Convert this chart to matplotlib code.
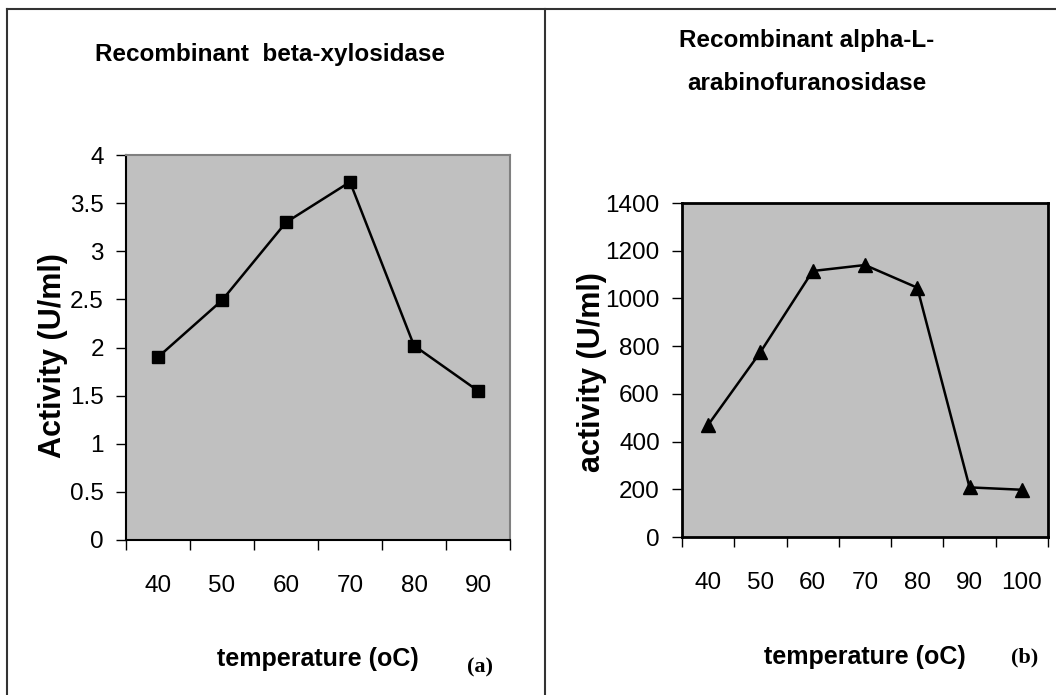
import matplotlib
matplotlib.use('Agg')
import matplotlib.pyplot as plt
from matplotlib.lines import Line2D

# Data
temps_a = ['40', '50', '60', '70', '80', '90']
activity_a = [1.9, 2.49, 3.3, 3.72, 2.02, 1.55]

temps_b = ['40', '50', '60', '70', '80', '90', '100']
activity_b = [470, 775, 1115, 1140, 1045, 208, 198]

plt.rcParams['font.family'] = ['Liberation Sans', 'DejaVu Sans']

W, H = 1056, 695
fig = plt.figure(figsize=(W / 100, H / 100), dpi=100)


def px(x0, y0, x1, y1):
    # pixel box (top-left origin) -> figure fractions
    return [x0 / W, 1 - y1 / H, (x1 - x0) / W, (y1 - y0) / H]


def style_axes(ax, cats, edge, lw):
    n = len(cats)
    ax.set_facecolor('#c0c0c0')
    ax.set_xlim(-0.5, n - 0.5)
    ax.set_xticks([i - 0.5 for i in range(n + 1)])
    ax.set_xticklabels([])
    ax.set_xticks(range(n), minor=True)
    ax.set_xticklabels(cats, minor=True, fontsize=17.5)
    ax.tick_params(axis='x', which='major', direction='out', length=7, width=1)
    ax.tick_params(axis='x', which='minor', length=0, pad=25)
    ax.tick_params(axis='y', direction='out', length=7, width=1, labelsize=17.5, pad=9)
    for s in ['left', 'bottom']:
        ax.spines[s].set_color('black')
        ax.spines[s].set_linewidth(lw)
    for s in ['top', 'right']:
        ax.spines[s].set_color(edge)
        ax.spines[s].set_linewidth(lw)


# panel (a)
ax1 = fig.add_axes(px(126, 155, 510, 540))
style_axes(ax1, temps_a, '#808080', 1.5)
ax1.plot(range(len(temps_a)), activity_a, color='black', lw=1.8,
         marker='s', markersize=9, markerfacecolor='black')
ax1.set_ylim(0, 4)
ax1.set_yticks([0, 0.5, 1, 1.5, 2, 2.5, 3, 3.5, 4])
ax1.set_yticklabels(['0', '0.5', '1', '1.5', '2', '2.5', '3', '3.5', '4'])
ax1.set_xlabel('temperature (oC)', fontsize=18, fontweight='bold')
ax1.xaxis.set_label_coords(0.5, -0.278)
ax1.set_ylabel('Activity (U/ml)', fontsize=22, fontweight='bold', va='center')
ax1.yaxis.set_label_coords(-0.19, 0.48)

# panel (b)
ax2 = fig.add_axes(px(682, 203, 1048, 537))
style_axes(ax2, temps_b, 'black', 2)
ax2.plot(range(len(temps_b)), activity_b, color='black', lw=1.8,
         marker='^', markersize=10, markerfacecolor='black')
ax2.set_ylim(0, 1400)
ax2.set_yticks(range(0, 1401, 200))
ax2.set_xlabel('temperature (oC)', fontsize=18, fontweight='bold')
ax2.xaxis.set_label_coords(0.5, -0.323)
ax2.set_ylabel('activity (U/ml)', fontsize=22, fontweight='bold', va='center')
ax2.yaxis.set_label_coords(-0.246, 0.495)

# titles
fig.text(270 / W, 1 - 55 / H, 'Recombinant  beta-xylosidase', ha='center', va='center',
         fontsize=17.5, fontweight='bold')
fig.text(807 / W, 1 - 40 / H, 'Recombinant alpha-L-', ha='center', va='center',
         fontsize=17.5, fontweight='bold')
fig.text(807 / W, 1 - 84 / H, 'arabinofuranosidase', ha='center', va='center',
         fontsize=17.5, fontweight='bold')

# panel tags
fig.text(480 / W, 1 - 667 / H, '(a)', ha='center', va='center', fontsize=16,
         fontweight='bold', family='Liberation Serif')
fig.text(1025 / W, 1 - 657 / H, '(b)', ha='center', va='center', fontsize=16,
         fontweight='bold', family='Liberation Serif')

# panel borders
for xs, ys in [([7, 1056], [9, 9]), ([7, 7], [9, 695]), ([545, 545], [9, 695])]:
    fig.add_artist(Line2D([x / W for x in xs], [1 - y / H for y in ys],
                          color='#333333', lw=1.5))

fig.savefig('out.png', dpi=100)
